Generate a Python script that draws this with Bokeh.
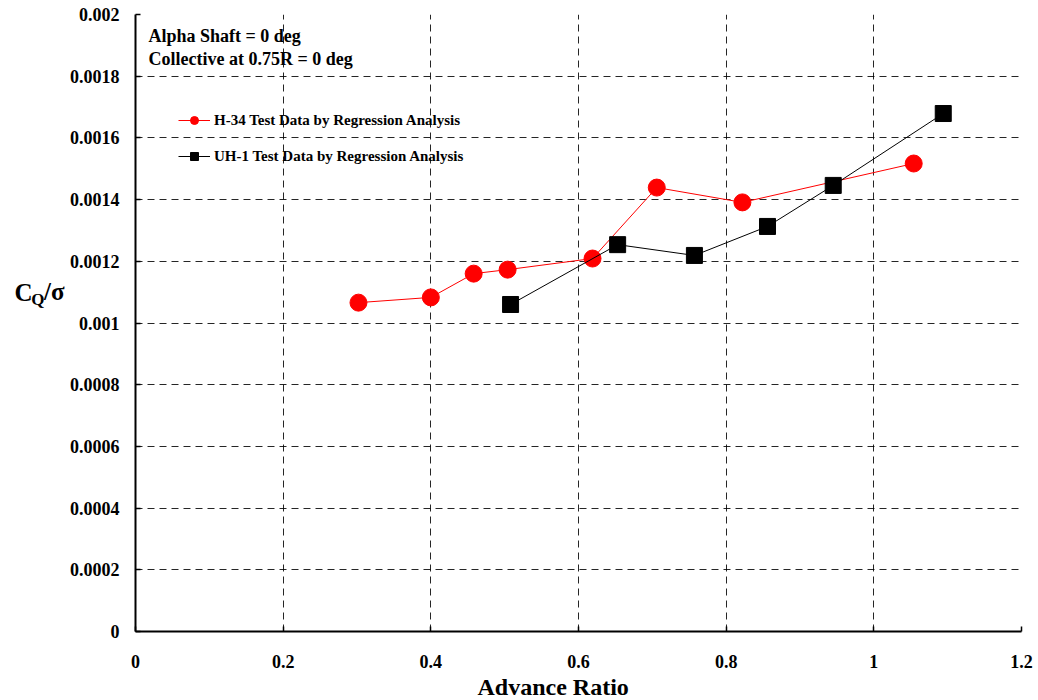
from bokeh.plotting import figure
from bokeh.models import Range1d, FixedTicker, Label, Legend, LegendItem, LinearAxis, Title
from bokeh.embed import file_html
from bokeh.resources import INLINE

# Data
h34_mu = [0.302, 0.400, 0.458, 0.504, 0.619, 0.706, 0.822, 1.054]
h34_cq = [0.001066, 0.001083, 0.001160, 0.001173, 0.001209, 0.001439, 0.001391, 0.001517]
uh1_mu = [0.508, 0.653, 0.757, 0.856, 0.945, 1.094]
uh1_cq = [0.001060, 0.001254, 0.001219, 0.001313, 0.001446, 0.001679]

x_ticks = [0, 0.2, 0.4, 0.6, 0.8, 1.0, 1.2]
x_tick_labels = ["0", "0.2", "0.4", "0.6", "0.8", "1", "1.2"]
y_ticks = [0, 0.0002, 0.0004, 0.0006, 0.0008, 0.001, 0.0012, 0.0014, 0.0016, 0.0018, 0.002]
y_tick_labels = ["0", "0.0002", "0.0004", "0.0006", "0.0008", "0.001", "0.0012", "0.0014", "0.0016", "0.0018", "0.002"]

FONT = "Liberation Serif"

p = figure(width=1038, height=700, output_backend="svg", toolbar_location=None,
           x_range=Range1d(0, 1.2), y_range=Range1d(0, 0.002),
           min_border_left=135, min_border_right=17, min_border_top=14, min_border_bottom=69)
p.outline_line_color = None
p.background_fill_color = "white"
p.border_fill_color = "white"

for ax in (p.xaxis[0], p.yaxis[0]):
    ax.axis_line_color = "black"
    ax.axis_line_width = 2
    ax.major_tick_line_color = "black"
    ax.major_tick_line_width = 1.5
    ax.major_tick_in = 5
    ax.major_tick_out = 0
    ax.minor_tick_line_color = None
    ax.major_label_text_font = FONT
    ax.major_label_text_font_style = "bold"
    ax.major_label_text_font_size = "18px"
    ax.major_label_text_color = "black"

p.xaxis.ticker = FixedTicker(ticks=x_ticks)
p.xaxis.major_label_overrides = {t: l for t, l in zip(x_ticks, x_tick_labels)}
p.yaxis.ticker = FixedTicker(ticks=y_ticks)
p.yaxis.major_label_overrides = {t: l for t, l in zip(y_ticks, y_tick_labels)}
p.xaxis.major_label_standoff = 23
p.yaxis.major_label_standoff = 16

# X-axis title, placed as in the reference (left of the frame centre)
p.add_layout(Title(text="Advance Ratio", align="left", offset=342, text_font=FONT,
                   text_font_style="bold", text_font_size="24px", text_color="black",
                   standoff=2), "below")

# Y-axis label "C_Q/σ" built from three label-only axes (innermost first)
ylabel_parts = [("/σ\n \n ", "25px", 1.15, 2),
                ("Q\n \n ", "17px", 1.24, -4),
                ("C\n \n ", "25px", 1.13, -4)]
for txt, fs, lh, so in ylabel_parts:
    ax = LinearAxis(ticker=FixedTicker(ticks=[]), axis_label=txt,
                    axis_line_color=None, major_tick_line_color=None, minor_tick_line_color=None,
                    major_tick_in=0, major_tick_out=0, minor_tick_out=0, major_label_standoff=0,
                    axis_label_standoff=so, axis_label_orientation="horizontal",
                    axis_label_text_font=FONT, axis_label_text_font_style="bold",
                    axis_label_text_font_size=fs, axis_label_text_line_height=lh,
                    axis_label_text_color="black")
    p.add_layout(ax, "left")

for g in (p.xgrid[0], p.ygrid[0]):
    g.grid_line_color = "black"
    g.grid_line_dash = "7 5"
    g.grid_line_width = 1
    g.grid_line_alpha = 0.85
p.xgrid.ticker = FixedTicker(ticks=x_ticks)
p.ygrid.ticker = FixedTicker(ticks=y_ticks)

r1l = p.line(h34_mu, h34_cq, line_color="red", line_width=1)
r1m = p.scatter(h34_mu, h34_cq, marker="circle", size=17, fill_color="red", line_color="red")
r2l = p.line(uh1_mu, uh1_cq, line_color="black", line_width=1)
r2m = p.scatter(uh1_mu, uh1_cq, marker="square", size=16, fill_color="black", line_color="black")

legend = Legend(items=[
    LegendItem(label="H-34 Test Data by Regression Analysis", renderers=[r1l, r1m]),
    LegendItem(label="UH-1 Test Data by Regression Analysis", renderers=[r2l, r2m]),
], location=(43, 465))
legend.border_line_color = None
legend.background_fill_alpha = 0
legend.label_text_font = FONT
legend.label_text_font_style = "bold"
legend.label_text_font_size = "15px"
legend.label_text_color = "black"
legend.glyph_width = 32
legend.glyph_height = 20
legend.label_height = 20
legend.spacing = 16
legend.label_standoff = 4
legend.margin = 0
legend.padding = 0
p.add_layout(legend)

for txt, yv in [("Alpha Shaft = 0 deg", 0.001929), ("Collective at 0.75R = 0 deg", 0.001857)]:
    p.add_layout(Label(x=0.0176, y=yv, text=txt, text_font=FONT, text_font_style="bold",
                       text_font_size="18px", text_baseline="middle", text_color="black"))

open("out.html", "w").write(file_html(p, INLINE))
